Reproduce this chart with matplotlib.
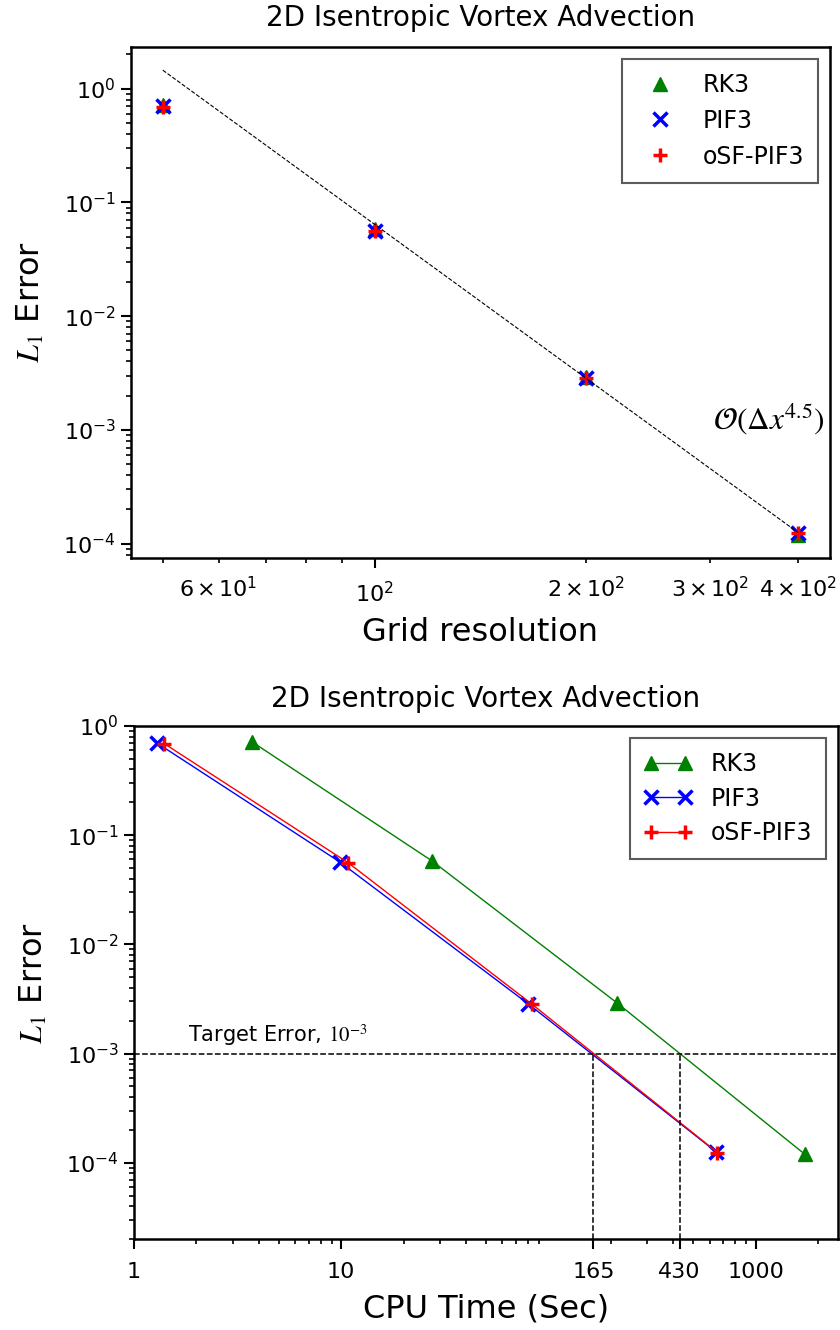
import numpy as np
import matplotlib
matplotlib.use("Agg")
import matplotlib.pyplot as plt

plt.rcParams['mathtext.fontset'] = 'stix'
plt.rcParams['axes.linewidth'] = 1.8

# grid convergence
grid = [50, 100, 200, 400]
err_rk3 = [0.72, 0.058, 2.9e-3, 1.2e-4]
err_pif3 = [0.70, 0.0565, 2.85e-3, 1.25e-4]
err_osf = [0.69, 0.056, 2.85e-3, 1.24e-4]
ref_grid = [50, 400]
ref_c = 1.45
ref_order = 4.5

# cost
cpu_rk3 = [3.7, 27.5, 215, 1725]
cpu_pif3 = [1.29, 9.9, 80, 648]
cpu_osf = [1.40, 10.8, 83, 655]
cpu_ticks = [1, 10, 165, 430, 1000]
target = 1e-3
target_cpu = [165, 430]

title = "2D Isentropic Vortex Advection"

def style_axes(ax):
    ax.tick_params(which='both', labelsize=16)
    ax.tick_params(which='major', length=7.5, width=1.5)
    ax.tick_params(which='minor', length=3.8, width=1.2)
    ax.tick_params(axis='x', which='both', pad=9)

fig = plt.figure(figsize=(8.4, 13.3), dpi=100)

#horni graf - konvergence
ax1 = fig.add_axes([0.156, 0.5805, 0.832, 0.3842])
ax1.loglog(grid, err_rk3, '^', color='g', ms=10, label='RK3')
ax1.loglog(grid, err_pif3, 'x', color='b', ms=10, mew=2.5, label='PIF3')
ax1.loglog(grid, err_osf, '+', color='r', ms=10, mew=2.5, label='oSF-PIF3')
ref_y = [ref_c * (g / ref_grid[0]) ** (-ref_order) for g in ref_grid]
ax1.loglog(ref_grid, ref_y, '--', color='k', lw=0.8)
ax1.text(303, 1.25e-3, r'$\mathcal{O}(\Delta x^{4.5})$', fontsize=22.5, va='center', ha='left')
ax1.set_title(title, fontsize=20, pad=15)
ax1.set_xlabel('Grid resolution', fontsize=23, labelpad=8)
ax1.set_ylabel('$L_1$ Error', fontsize=23, labelpad=12)
style_axes(ax1)
leg = ax1.legend(loc='upper right', fontsize=17, numpoints=1, fancybox=False,
                 edgecolor='0.2', borderpad=0.6)
leg.get_frame().set_linewidth(1.5)

#dolni graf - cas
ax2 = fig.add_axes([0.1595, 0.0684, 0.8381, 0.3857])
ax2.loglog(cpu_rk3, err_rk3, '^-', color='g', ms=10, lw=1, label='RK3')
ax2.loglog(cpu_pif3, err_pif3, 'x-', color='b', ms=10, mew=2.5, lw=1, label='PIF3')
ax2.loglog(cpu_osf, err_osf, '+-', color='r', ms=10, mew=2.5, lw=1, label='oSF-PIF3')
ax2.axhline(target, color='k', ls='--', lw=1.1)
for t in target_cpu:
    ax2.plot([t, t], [2e-5, target], '--', color='k', lw=1.1)
ax2.text(1.82, 1.12e-3, r'Target Error, $10^{-3}$', fontsize=15, va='bottom', ha='left')
ax2.set_xlim(1, 2500)
ax2.set_ylim(2e-5, 1)
ax2.set_xticks(cpu_ticks)
ax2.set_xticklabels([str(t) for t in cpu_ticks])
ax2.set_title(title, fontsize=20, pad=14)
ax2.set_xlabel('CPU Time (Sec)', fontsize=23, labelpad=8)
ax2.set_ylabel('$L_1$ Error', fontsize=23, labelpad=12)
style_axes(ax2)
leg = ax2.legend(loc='upper right', fontsize=17, numpoints=2, fancybox=False,
                 edgecolor='0.2', borderpad=0.6, labelspacing=0.45)
leg.get_frame().set_linewidth(1.5)

fig.savefig('out.png', dpi=100)
